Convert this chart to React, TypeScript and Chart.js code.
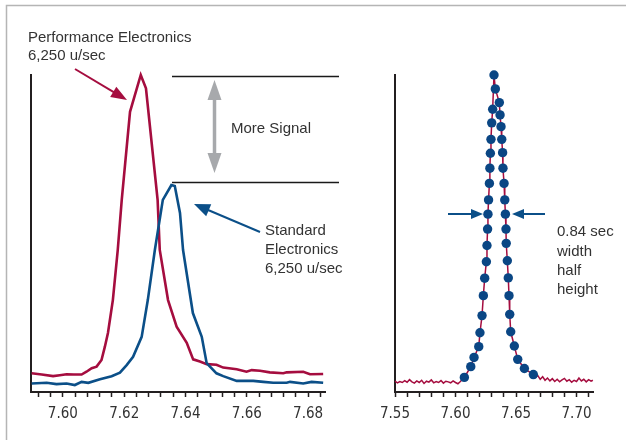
import { useEffect, useRef } from "react";
import { Chart, registerables } from "chart.js";

Chart.register(...registerables);

// ---------- Left panel: retention time (min) vs signal ----------
const perfX = [7.5898, 7.5931, 7.5968, 7.599, 7.6012, 7.6036, 7.6061, 7.6077, 7.6094, 7.611, 7.6126, 7.6137, 7.6147, 7.6163, 7.6179, 7.6192, 7.6219, 7.6254, 7.6271, 7.6309, 7.6316, 7.6343, 7.6371, 7.6404, 7.6425, 7.6447, 7.6469, 7.6501, 7.6523, 7.6567, 7.6599, 7.6616, 7.6643, 7.6675, 7.6719, 7.673, 7.6784, 7.6806, 7.6849];
const perfY = [5.9, 5.5, 5.0, 5.3, 5.6, 5.5, 5.5, 6.4, 7.5, 8.0, 10.1, 14.3, 18.6, 29.0, 44.8, 60.6, 88.4, 100, 95.8, 60.6, 44.8, 29.0, 20.6, 15.5, 10.3, 9.6, 8.8, 8.6, 7.7, 7.2, 6.4, 6.9, 6.7, 6.2, 5.9, 6.2, 6.4, 5.6, 5.7];

const stdX = [7.5898, 7.5947, 7.5979, 7.6012, 7.6039, 7.6061, 7.6083, 7.6121, 7.6159, 7.6186, 7.6208, 7.6229, 7.6257, 7.6277, 7.63, 7.6326, 7.6354, 7.6365, 7.6382, 7.6392, 7.6424, 7.6453, 7.6469, 7.6501, 7.6523, 7.6567, 7.6621, 7.6654, 7.6686, 7.673, 7.6741, 7.6784, 7.6811, 7.6849];
const stdY = [2.7, 2.9, 2.5, 2.7, 2.2, 3.2, 2.9, 4.0, 5.0, 6.1, 8.5, 11.1, 17.4, 29.0, 44.8, 60.6, 65.3, 65.0, 56.5, 44.8, 24.9, 17.4, 9.1, 5.9, 5.0, 3.5, 3.5, 3.2, 2.9, 2.9, 3.2, 2.7, 3.2, 2.9];

// ---------- Right panel: sampled peak (dots) on a noisy trace ----------
const noiseLeftX = [7.55, 7.552, 7.554, 7.556, 7.558, 7.56, 7.562, 7.564, 7.566, 7.568, 7.57, 7.572, 7.574, 7.576, 7.578, 7.58, 7.582, 7.584, 7.586, 7.588, 7.59, 7.592, 7.594, 7.596, 7.598, 7.6, 7.602, 7.604];
const noiseLeftY = [3.4, 2.9, 3.3, 3.0, 3.6, 3.1, 3.9, 3.2, 2.8, 3.5, 3.0, 3.7, 2.7, 3.4, 3.1, 3.8, 2.9, 3.3, 3.0, 3.6, 2.8, 3.4, 3.2, 2.9, 3.5, 3.0, 2.6, 3.3];

const dotX = [7.6073, 7.6126, 7.6153, 7.6192, 7.6202, 7.6219, 7.623, 7.6241, 7.6255, 7.626, 7.6265, 7.6268, 7.6273, 7.628, 7.6284, 7.6288, 7.6293, 7.6299, 7.6307, 7.6318, 7.6329, 7.6362, 7.6368, 7.6376, 7.6382, 7.6389, 7.6392, 7.6401, 7.6407, 7.6412, 7.6417, 7.6419, 7.6428, 7.6436, 7.6442, 7.6448, 7.6456, 7.6486, 7.6514, 7.6569, 7.6643];
const dotY = [4.6, 8.0, 10.9, 14.3, 18.7, 24.1, 30.4, 35.9, 41.1, 46.2, 51.4, 56.1, 60.6, 65.8, 70.6, 75.3, 79.7, 84.9, 89.2, 100, 95.6, 91.3, 87.4, 83.7, 79.7, 75.5, 70.6, 65.8, 60.6, 56.1, 51.4, 46.9, 41.4, 36.0, 30.4, 24.5, 19.0, 14.5, 10.3, 7.4, 5.5];

const noiseRightX = [7.666, 7.668, 7.67, 7.672, 7.674, 7.676, 7.678, 7.68, 7.682, 7.684, 7.686, 7.688, 7.69, 7.692, 7.694, 7.696, 7.698, 7.7, 7.702, 7.704, 7.706, 7.708, 7.71, 7.712, 7.7135];
const noiseRightY = [4.6, 5.2, 4.0, 4.8, 3.7, 4.4, 3.5, 4.2, 3.3, 4.0, 3.2, 3.8, 4.3, 3.4, 3.9, 3.1, 3.7, 3.3, 4.4, 3.5, 4.0, 3.2, 3.9, 3.4, 3.7];

// ---------- Axes ----------
const leftMin = 7.5896;
const leftMax = 7.6855;
const leftTicks = [7.592, 7.596, 7.6, 7.604, 7.608, 7.612, 7.616, 7.62, 7.624, 7.628, 7.632, 7.636, 7.64, 7.644, 7.648, 7.652, 7.656, 7.66, 7.664, 7.668, 7.672, 7.676, 7.68, 7.684];
const leftMajor = [7.6, 7.62, 7.64, 7.66, 7.68];
const leftLabels = ["7.60", "7.62", "7.64", "7.66", "7.68"];

const rightMin = 7.55;
const rightMax = 7.7136;
const rightTicks = [7.55, 7.56, 7.57, 7.58, 7.59, 7.6, 7.61, 7.62, 7.63, 7.64, 7.65, 7.66, 7.67, 7.68, 7.69, 7.7, 7.71];
const rightMajor = [7.55, 7.6, 7.65, 7.7];
const rightLabels = ["7.55", "7.60", "7.65", "7.70"];

const RED = "#a50d3f";
const BLUE = "#0b4f88";
const DOT = "#0a4684";
const GRAY = "#a7a9ac";
const AXIS = "#231f20";
const TEXT = "#333333";
const TEXT_FONT = '15px "Liberation Sans", Arial, sans-serif';
const TICK_FAMILY = '"Liberation Sans Narrow", "DejaVu Sans Condensed", Roboto, sans-serif';

const pts = (xs: number[], ys: number[]) => xs.map((x, i) => ({ x, y: ys[i] }));

function arrow(ctx: CanvasRenderingContext2D, x1: number, y1: number, x2: number, y2: number, color: string, lw: number, hl: number, hw: number) {
  const a = Math.atan2(y2 - y1, x2 - x1);
  const bx = x2 - hl * Math.cos(a);
  const by = y2 - hl * Math.sin(a);
  ctx.save();
  ctx.strokeStyle = color;
  ctx.lineWidth = lw;
  ctx.beginPath();
  ctx.moveTo(x1, y1);
  ctx.lineTo(bx + Math.cos(a) * 2, by + Math.sin(a) * 2);
  ctx.stroke();
  ctx.fillStyle = color;
  ctx.beginPath();
  ctx.moveTo(x2, y2);
  ctx.lineTo(bx + (hw / 2) * Math.sin(a), by - (hw / 2) * Math.cos(a));
  ctx.lineTo(bx - (hw / 2) * Math.sin(a), by + (hw / 2) * Math.cos(a));
  ctx.closePath();
  ctx.fill();
  ctx.restore();
}

function texts(ctx: CanvasRenderingContext2D, x: number, lines: [string, number][]) {
  ctx.save();
  ctx.font = TEXT_FONT;
  ctx.fillStyle = TEXT;
  ctx.textBaseline = "middle";
  ctx.textAlign = "left";
  lines.forEach(([t, y]) => ctx.fillText(t, x, y));
  ctx.restore();
}

const leftAnnotations = {
  id: "leftAnnotations",
  beforeDraw(chart: any) {
    const ctx: CanvasRenderingContext2D = chart.ctx;
    ctx.save();
    ctx.strokeStyle = "#b5b5b5";
    ctx.lineWidth = 1.5;
    ctx.beginPath();
    ctx.moveTo(6.5, 440);
    ctx.lineTo(6.5, 5.5);
    ctx.lineTo(626, 5.5);
    ctx.stroke();
    ctx.restore();
  },
  afterDraw(chart: any) {
    const ctx: CanvasRenderingContext2D = chart.ctx;
    texts(ctx, 28, [["Performance Electronics", 38], ["6,250 u/sec", 56]]);
    arrow(ctx, 75, 69, 127, 100, RED, 2, 16, 12);

    ctx.save();
    ctx.strokeStyle = "#1a1a1a";
    ctx.lineWidth = 1.3;
    ctx.beginPath();
    ctx.moveTo(172, 76.5);
    ctx.lineTo(339, 76.5);
    ctx.moveTo(172, 182.5);
    ctx.lineTo(339, 182.5);
    ctx.stroke();
    ctx.restore();

    arrow(ctx, 214.5, 127, 214.5, 80, GRAY, 3.5, 20, 14);
    arrow(ctx, 214.5, 127, 214.5, 173, GRAY, 3.5, 20, 14);
    texts(ctx, 231, [["More Signal", 129]]);

    arrow(ctx, 260, 232, 194, 204, BLUE, 2, 16, 13);
    texts(ctx, 265, [["Standard", 231], ["Electronics", 250], ["6,250 u/sec", 269]]);
  },
};

const rightAnnotations = {
  id: "rightAnnotations",
  afterDraw(chart: any) {
    const ctx: CanvasRenderingContext2D = chart.ctx;
    arrow(ctx, 448, 214, 483, 214, BLUE, 2, 12, 10);
    arrow(ctx, 545, 214, 512, 214, BLUE, 2, 12, 10);
    texts(ctx, 557, [["0.84 sec", 232], ["width", 252], ["half", 271], ["height", 290]]);
  },
};

function makeScales(min: number, max: number, ticks: number[], major: number[], labels: string[]) {
  return {
    x: {
      type: "linear",
      min,
      max,
      afterBuildTicks: (scale: any) => {
        scale.ticks = ticks.map((v) => ({ value: v }));
      },
      afterFit: (scale: any) => {
        scale.height = 48;
      },
      ticks: {
        autoSkip: false,
        maxRotation: 0,
        minRotation: 0,
        padding: 8,
        color: TEXT,
        font: { family: TICK_FAMILY, size: 15 },
        callback: (value: number) => {
          const i = major.findIndex((m) => Math.abs(m - value) < 1e-6);
          return i >= 0 ? labels[i] : "";
        },
      },
      grid: {
        drawOnChartArea: false,
        drawTicks: true,
        tickLength: 5,
        tickColor: AXIS,
        tickWidth: 1.5,
      },
      border: { display: true, color: AXIS, width: 2 },
    },
    y: {
      type: "linear",
      min: 0,
      max: 100,
      afterFit: (scale: any) => {
        scale.width = 0;
      },
      ticks: { display: false },
      grid: { drawOnChartArea: false, drawTicks: false },
      border: { display: true, color: AXIS, width: 2 },
    },
  };
}

const baseOptions = {
  responsive: false,
  animation: false,
  devicePixelRatio: 1,
  events: [],
  plugins: { legend: { display: false }, tooltip: { enabled: false } },
};

export default function App() {
  const leftRef = useRef<HTMLCanvasElement>(null);
  const rightRef = useRef<HTMLCanvasElement>(null);

  useEffect(() => {
    const left = new Chart(leftRef.current as HTMLCanvasElement, {
      type: "line",
      data: {
        datasets: [
          {
            label: "Standard Electronics",
            data: pts(stdX, stdY),
            borderColor: BLUE,
            borderWidth: 2.6,
            pointRadius: 0,
            tension: 0,
            clip: false,
          },
          {
            label: "Performance Electronics",
            data: pts(perfX, perfY),
            borderColor: RED,
            borderWidth: 2.6,
            pointRadius: 0,
            tension: 0,
            clip: false,
          },
        ],
      },
      options: {
        ...baseOptions,
        layout: { padding: { left: 31, right: 301, top: 75, bottom: 0 } },
        scales: makeScales(leftMin, leftMax, leftTicks, leftMajor, leftLabels),
      } as any,
      plugins: [leftAnnotations],
    });

    const right = new Chart(rightRef.current as HTMLCanvasElement, {
      type: "line",
      data: {
        datasets: [
          {
            label: "Samples",
            data: pts(dotX, dotY),
            showLine: false,
            pointRadius: 4.7,
            pointBackgroundColor: DOT,
            pointBorderWidth: 0,
            order: 0,
            clip: false,
          },
          {
            label: "Trace",
            data: [...pts(noiseLeftX, noiseLeftY), ...pts(dotX, dotY), ...pts(noiseRightX, noiseRightY)],
            borderColor: RED,
            borderWidth: 1.5,
            pointRadius: 0,
            tension: 0,
            order: 1,
            clip: false,
          },
        ],
      },
      options: {
        ...baseOptions,
        layout: { padding: { left: 395, right: 33, top: 75, bottom: 0 } },
        scales: makeScales(rightMin, rightMax, rightTicks, rightMajor, rightLabels),
      } as any,
      plugins: [rightAnnotations],
    });

    return () => {
      left.destroy();
      right.destroy();
    };
  }, []);

  return (
    <div style={{ position: "fixed", left: 0, top: 0, width: 626, height: 440, background: "#fff" }}>
      <canvas ref={leftRef} width={626} height={440} style={{ position: "absolute", left: 0, top: 0 }} />
      <canvas ref={rightRef} width={626} height={440} style={{ position: "absolute", left: 0, top: 0 }} />
    </div>
  );
}
